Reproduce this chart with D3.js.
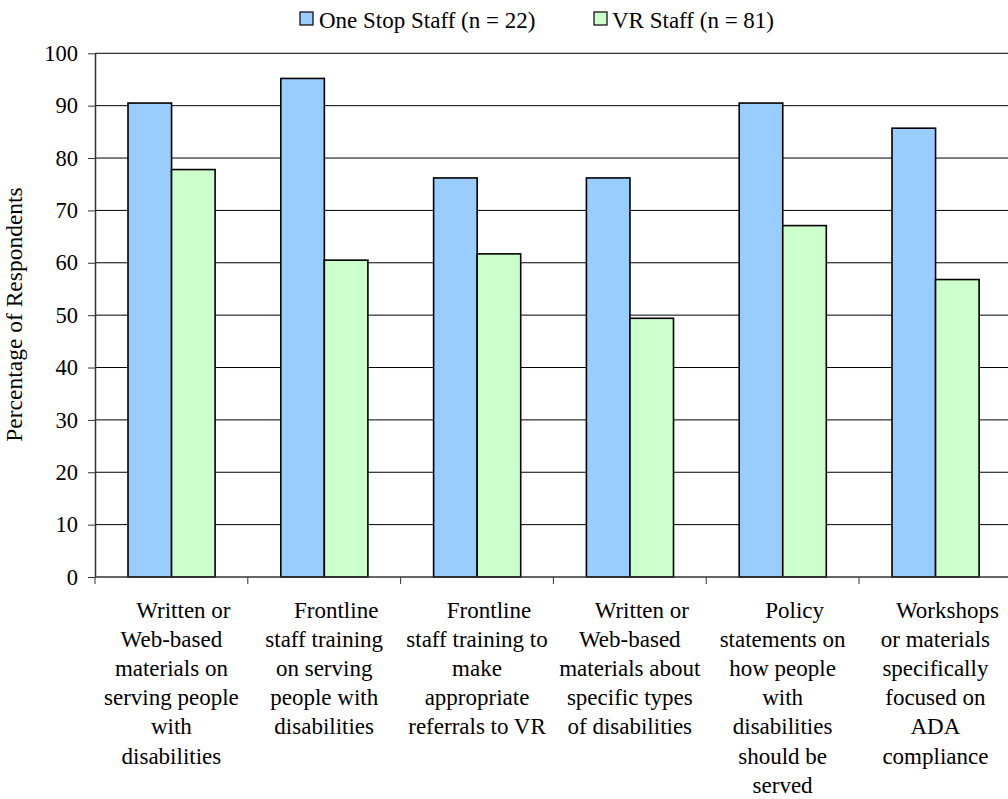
<!DOCTYPE html>
<html>
<head>
<meta charset="utf-8">
<script src="https://cdn.jsdelivr.net/npm/d3@7"></script>
<style>
  html, body { margin: 0; padding: 0; background: #fff; }
  svg { display: block; }
</style>
</head>
<body>
<svg id="chart" width="1008" height="799"></svg>
<script>
// Categories (each label split into its wrapped lines)
const categories = [
  ["Written or", "Web-based", "materials on", "serving people", "with", "disabilities"],
  ["Frontline", "staff training", "on serving", "people with", "disabilities"],
  ["Frontline", "staff training to", "make", "appropriate", "referrals to VR"],
  ["Written or", "Web-based", "materials about", "specific types", "of disabilities"],
  ["Policy", "statements on", "how people", "with", "disabilities", "should be", "served"],
  ["Workshops", "or materials", "specifically", "focused on", "ADA", "compliance"]
];
const seriesNames = ["One Stop Staff (n = 22)", "VR Staff (n = 81)"];
const oneStopValues = [90.5, 95.2, 76.2, 76.2, 90.5, 85.7];
const vrValues = [77.8, 60.5, 61.7, 49.4, 67.1, 56.8];
const yTicks = [0, 10, 20, 30, 40, 50, 60, 70, 80, 90, 100];
const yTitle = "Percentage of Respondents";

const FONT = "'Liberation Serif', 'Times New Roman', Times, serif";
const colors = ["#99CCFF", "#CCFFCC"];
const svg = d3.select("#chart");

const plot = { left: 95, top: 53.3, bottom: 577, step: 152.8 };
const catIdx = d3.range(categories.length);

const x0 = d3.scaleBand()
  .domain(catIdx)
  .range([plot.left, plot.left + plot.step * categories.length])
  .paddingInner(0).paddingOuter(0);

const bw = x0.bandwidth();
const x1 = d3.scaleBand()
  .domain([0, 1])
  .range([bw * 0.216, bw * 0.216 + bw * 0.57])
  .paddingInner(0);

const y = d3.scaleLinear().domain([0, 100]).range([plot.bottom, plot.top]);

// Horizontal gridlines
svg.append("g")
  .selectAll("line")
  .data(yTicks.filter(t => t > 0))
  .join("line")
  .attr("x1", plot.left).attr("x2", 1008)
  .attr("y1", d => y(d)).attr("y2", d => y(d))
  .attr("stroke", "#000").attr("stroke-width", 1);

// Bars
const series = [oneStopValues, vrValues];
const gBars = svg.append("g");
series.forEach((vals, si) => {
  gBars.append("g")
    .selectAll("rect")
    .data(vals)
    .join("rect")
    .attr("x", (d, i) => x0(i) + x1(si))
    .attr("y", d => y(d))
    .attr("width", x1.bandwidth())
    .attr("height", d => y(0) - y(d))
    .attr("fill", colors[si])
    .attr("stroke", "#000")
    .attr("stroke-width", 1.6);
});

// Y axis
const yAxis = d3.axisLeft(y).tickValues(yTicks).tickSize(7).tickPadding(10).tickSizeOuter(0);
const gy = svg.append("g").attr("transform", `translate(${plot.left},0)`).call(yAxis);
gy.attr("font-family", null).attr("font-size", null);
gy.select(".domain").attr("stroke", "#333").attr("stroke-width", 1.5);
gy.selectAll(".tick line").attr("stroke", "#333").attr("stroke-width", 1);
gy.selectAll(".tick text")
  .style("font-family", FONT)
  .style("font-size", "22.5px")
  .attr("fill", "#000");

// X axis (category separators only)
const xEdges = d3.range(categories.length + 1).map(i => plot.left + i * plot.step);
svg.append("line")
  .attr("x1", plot.left).attr("x2", 1008)
  .attr("y1", plot.bottom).attr("y2", plot.bottom)
  .attr("stroke", "#333").attr("stroke-width", 1.5);
svg.append("g")
  .selectAll("line")
  .data(xEdges)
  .join("line")
  .attr("x1", d => d).attr("x2", d => d)
  .attr("y1", plot.bottom).attr("y2", plot.bottom + 7)
  .attr("stroke", "#333").attr("stroke-width", 1);

// Category labels
const gLabels = svg.append("g")
  .style("font-family", FONT)
  .style("font-size", "23px")
  .attr("text-anchor", "middle")
  .attr("fill", "#000");
categories.forEach((lines, i) => {
  const cx = x0(i) + bw / 2;
  const t = gLabels.append("text").attr("x", cx).attr("y", 617.5);
  lines.forEach((ln, j) => {
    t.append("tspan")
      .attr("x", j === 0 ? cx + 12 : cx)
      .attr("y", 617.5 + j * 29.2)
      .text(ln);
  });
});

// Y-axis title
svg.append("text")
  .attr("transform", "translate(22,314.5) rotate(-90)")
  .attr("text-anchor", "middle")
  .style("font-family", FONT)
  .style("font-size", "23.5px")
  .text(yTitle);

// Legend
const legendPos = [{ box: 300, text: 319 }, { box: 594, text: 612 }];
const gLeg = svg.append("g");
seriesNames.forEach((name, i) => {
  gLeg.append("rect")
    .attr("x", legendPos[i].box).attr("y", 12)
    .attr("width", 13).attr("height", 13)
    .attr("fill", colors[i]).attr("stroke", "#000").attr("stroke-width", 1.2);
  gLeg.append("text")
    .attr("x", legendPos[i].text).attr("y", 28)
    .style("font-family", FONT)
    .style("font-size", "23px")
    .text(name);
});
</script>
</body>
</html>
